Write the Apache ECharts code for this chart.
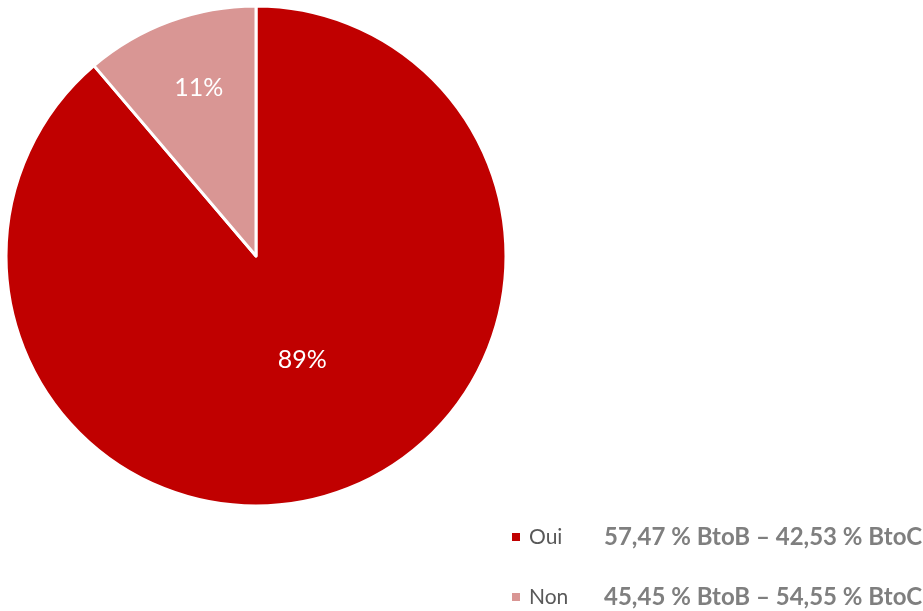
<!DOCTYPE html>
<html><head><meta charset="utf-8">
<script src="https://cdn.jsdelivr.net/npm/echarts@6/dist/echarts.min.js"></script>
<style>html,body{margin:0;padding:0;background:#fff}#c{width:923px;height:611px}</style>
</head><body><div id="c"></div>
<script>
const categories = ['Oui', 'Non'];
const values = [87, 11];
const details = ['57,47 % BtoB – 42,53 % BtoC', '45,45 % BtoB – 54,55 % BtoC'];
const colors = ['#C00000', '#D99694'];
const labelOffsets = [[2, -16], [-13, -48]];
const legendTops = [525, 585];
const total = values.reduce((a, b) => a + b, 0);

const chart = echarts.init(document.getElementById('c'), null, {renderer: 'canvas'});
chart.setOption({
  animation: false,
  legend: categories.map((c, i) => ({
    left: 510,
    top: legendTops[i],
    padding: 0,
    itemWidth: 10,
    itemHeight: 10,
    icon: 'rect',
    selectedMode: false,
    data: [c],
    formatter: name => '{n|' + name + '}{b|' + details[categories.indexOf(name)] + '}',
    textStyle: {
      rich: {
        n: {width: 75, padding: [0, 0, 0, 3], fontSize: 21, lineHeight: 30, color: '#595959', fontFamily: 'Lato'},
        b: {fontSize: 24, lineHeight: 30, fontWeight: 'bold', color: '#7F7F7F', fontFamily: 'Lato'}
      }
    }
  })),
  series: [{
    type: 'pie',
    center: [256, 256],
    radius: [0, 250],
    startAngle: 90,
    clockwise: true,
    itemStyle: {borderColor: '#fff', borderWidth: 3},
    label: {
      position: 'inside',
      color: '#fff',
      fontSize: 25,
      fontFamily: 'Lato',
      formatter: p => Math.round(p.value / total * 100) + '%'
    },
    labelLine: {show: false},
    emphasis: {disabled: true},
    data: categories.map((c, i) => ({
      name: c, value: values[i],
      itemStyle: {color: colors[i]},
      label: {offset: labelOffsets[i]}
    }))
  }]
});
</script></body></html>
